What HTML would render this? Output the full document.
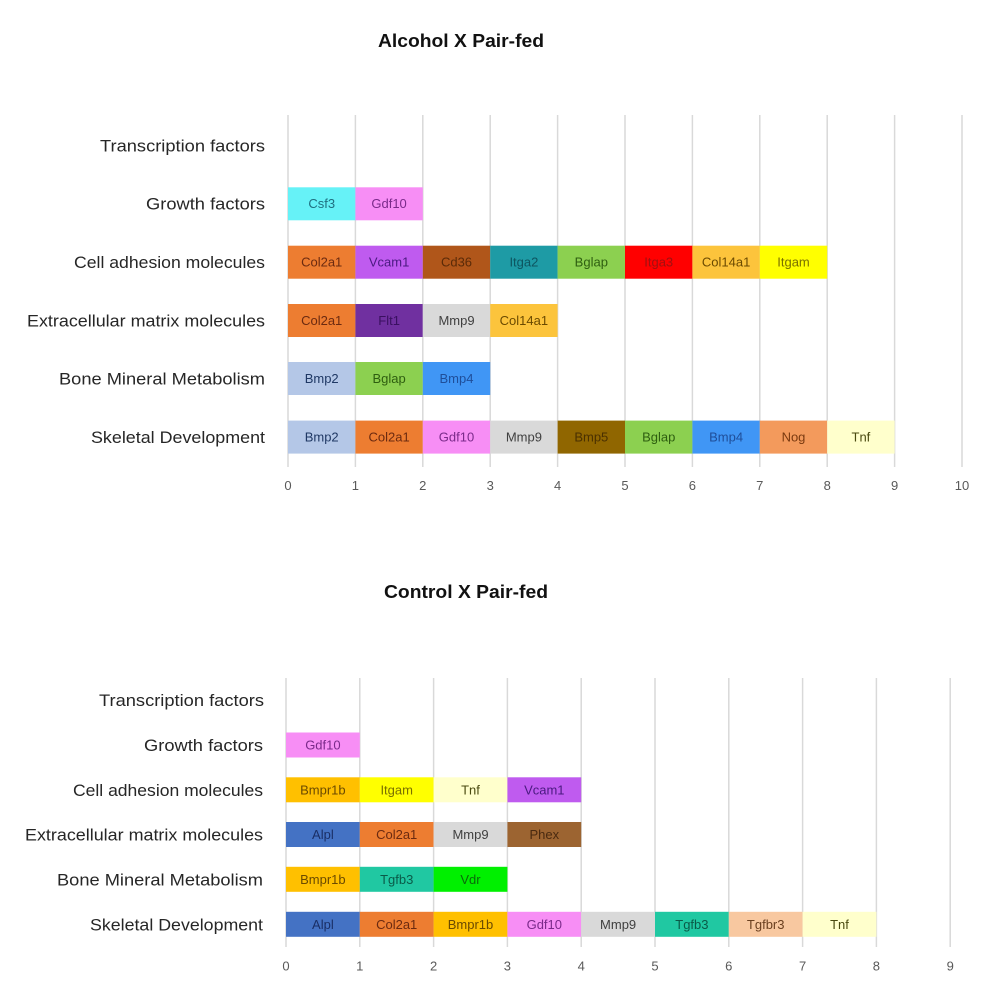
<!DOCTYPE html>
<html><head><meta charset="utf-8"><style>
html,body{margin:0;padding:0;background:#fff;}
svg{display:block;}
text{font-family:"Liberation Sans",sans-serif;}
.cat{font-size:17px;fill:#262626;text-anchor:end;}
.tk{font-size:13px;fill:#595959;text-anchor:middle;}
.bl{font-size:13px;text-anchor:middle;}
.ttl{font-size:18px;font-weight:bold;fill:#111;text-anchor:middle;}
.g{stroke:#d9d9d9;stroke-width:1.5;}
</style></head><body>
<svg width="1000" height="1000" viewBox="0 0 1000 1000" xmlns="http://www.w3.org/2000/svg">
<rect width="1000" height="1000" fill="#fff"/>

<!-- ===== TOP CHART ===== -->
<text class="ttl" x="461" y="47" textLength="166" lengthAdjust="spacingAndGlyphs">Alcohol X Pair-fed</text>

<g class="g">
<line x1="288" y1="115" x2="288" y2="467"/>
<line x1="355.4" y1="115" x2="355.4" y2="467"/>
<line x1="422.8" y1="115" x2="422.8" y2="467"/>
<line x1="490.2" y1="115" x2="490.2" y2="467"/>
<line x1="557.6" y1="115" x2="557.6" y2="467"/>
<line x1="625" y1="115" x2="625" y2="467"/>
<line x1="692.4" y1="115" x2="692.4" y2="467"/>
<line x1="759.8" y1="115" x2="759.8" y2="467"/>
<line x1="827.2" y1="115" x2="827.2" y2="467"/>
<line x1="894.6" y1="115" x2="894.6" y2="467"/>
<line x1="962" y1="115" x2="962" y2="467"/>
</g>

<text class="cat" x="265" y="151.5" textLength="165" lengthAdjust="spacingAndGlyphs">Transcription factors</text>
<text class="cat" x="265" y="209.7" textLength="119" lengthAdjust="spacingAndGlyphs">Growth factors</text>
<text class="cat" x="265" y="268.2" textLength="191" lengthAdjust="spacingAndGlyphs">Cell adhesion molecules</text>
<text class="cat" x="265" y="326.4" textLength="238" lengthAdjust="spacingAndGlyphs">Extracellular matrix molecules</text>
<text class="cat" x="265" y="384.5" textLength="206" lengthAdjust="spacingAndGlyphs">Bone Mineral Metabolism</text>
<text class="cat" x="265" y="443" textLength="174" lengthAdjust="spacingAndGlyphs">Skeletal Development</text>

<!-- Growth factors -->
<rect x="288" y="187.3" width="67.4" height="33" fill="#66f2f7"/>
<text class="bl" x="321.7" y="208.2" fill="#1f6f80">Csf3</text>
<rect x="355.4" y="187.3" width="67.4" height="33" fill="#f78ef5"/>
<text class="bl" x="389.1" y="208.2" fill="#7a2a8a">Gdf10</text>

<!-- Cell adhesion -->
<rect x="288" y="245.7" width="67.4" height="33" fill="#ed7d31"/>
<text class="bl" x="321.7" y="266.7" fill="#6b2a10">Col2a1</text>
<rect x="355.4" y="245.7" width="67.4" height="33" fill="#bf5bef"/>
<text class="bl" x="389.1" y="266.7" fill="#4a1a80">Vcam1</text>
<rect x="422.8" y="245.7" width="67.4" height="33" fill="#b0561a"/>
<text class="bl" x="456.5" y="266.7" fill="#5a2a08">Cd36</text>
<rect x="490.2" y="245.7" width="67.4" height="33" fill="#1e9ba5"/>
<text class="bl" x="523.9" y="266.7" fill="#0d5560">Itga2</text>
<rect x="557.6" y="245.7" width="67.4" height="33" fill="#8cd050"/>
<text class="bl" x="591.3" y="266.7" fill="#2e5e10">Bglap</text>
<rect x="625" y="245.7" width="67.4" height="33" fill="#ff0000"/>
<text class="bl" x="658.7" y="266.7" fill="#a01010">Itga3</text>
<rect x="692.4" y="245.7" width="67.4" height="33" fill="#fcc43c"/>
<text class="bl" x="726.1" y="266.7" fill="#6b4a00">Col14a1</text>
<rect x="759.8" y="245.7" width="67.4" height="33" fill="#ffff00"/>
<text class="bl" x="793.5" y="266.7" fill="#7a7000">Itgam</text>

<!-- ECM -->
<rect x="288" y="304" width="67.4" height="33" fill="#ed7d31"/>
<text class="bl" x="321.7" y="325" fill="#6b2a10">Col2a1</text>
<rect x="355.4" y="304" width="67.4" height="33" fill="#7030a0"/>
<text class="bl" x="389.1" y="325" fill="#3a1060">Flt1</text>
<rect x="422.8" y="304" width="67.4" height="33" fill="#d9d9d9"/>
<text class="bl" x="456.5" y="325" fill="#404040">Mmp9</text>
<rect x="490.2" y="304" width="67.4" height="33" fill="#fcc43c"/>
<text class="bl" x="523.9" y="325" fill="#6b4a00">Col14a1</text>

<!-- Bone -->
<rect x="288" y="362" width="67.4" height="33" fill="#b4c7e7"/>
<text class="bl" x="321.7" y="383" fill="#1f3864">Bmp2</text>
<rect x="355.4" y="362" width="67.4" height="33" fill="#8cd050"/>
<text class="bl" x="389.1" y="383" fill="#2e5e10">Bglap</text>
<rect x="422.8" y="362" width="67.4" height="33" fill="#4096f5"/>
<text class="bl" x="456.5" y="383" fill="#1f4e99">Bmp4</text>

<!-- Skeletal -->
<rect x="288" y="420.6" width="67.4" height="33" fill="#b4c7e7"/>
<text class="bl" x="321.7" y="441.5" fill="#1f3864">Bmp2</text>
<rect x="355.4" y="420.6" width="67.4" height="33" fill="#ed7d31"/>
<text class="bl" x="389.1" y="441.5" fill="#6b2a10">Col2a1</text>
<rect x="422.8" y="420.6" width="67.4" height="33" fill="#f78ef5"/>
<text class="bl" x="456.5" y="441.5" fill="#7a2a8a">Gdf10</text>
<rect x="490.2" y="420.6" width="67.4" height="33" fill="#d9d9d9"/>
<text class="bl" x="523.9" y="441.5" fill="#404040">Mmp9</text>
<rect x="557.6" y="420.6" width="67.4" height="33" fill="#906600"/>
<text class="bl" x="591.3" y="441.5" fill="#4a3000">Bmp5</text>
<rect x="625" y="420.6" width="67.4" height="33" fill="#8cd050"/>
<text class="bl" x="658.7" y="441.5" fill="#2e5e10">Bglap</text>
<rect x="692.4" y="420.6" width="67.4" height="33" fill="#4096f5"/>
<text class="bl" x="726.1" y="441.5" fill="#1f4e99">Bmp4</text>
<rect x="759.8" y="420.6" width="67.4" height="33" fill="#f39a5c"/>
<text class="bl" x="793.5" y="441.5" fill="#7a3a10">Nog</text>
<rect x="827.2" y="420.6" width="67.4" height="33" fill="#ffffcc"/>
<text class="bl" x="860.9" y="441.5" fill="#4a4a10">Tnf</text>

<!-- top ticks -->
<text class="tk" x="288" y="490">0</text>
<text class="tk" x="355.4" y="490">1</text>
<text class="tk" x="422.8" y="490">2</text>
<text class="tk" x="490.2" y="490">3</text>
<text class="tk" x="557.6" y="490">4</text>
<text class="tk" x="625" y="490">5</text>
<text class="tk" x="692.4" y="490">6</text>
<text class="tk" x="759.8" y="490">7</text>
<text class="tk" x="827.2" y="490">8</text>
<text class="tk" x="894.6" y="490">9</text>
<text class="tk" x="962" y="490">10</text>

<!-- ===== BOTTOM CHART ===== -->
<text class="ttl" x="466" y="598" textLength="164" lengthAdjust="spacingAndGlyphs">Control X Pair-fed</text>

<g class="g">
<line x1="286" y1="678" x2="286" y2="947"/>
<line x1="359.8" y1="678" x2="359.8" y2="947"/>
<line x1="433.6" y1="678" x2="433.6" y2="947"/>
<line x1="507.4" y1="678" x2="507.4" y2="947"/>
<line x1="581.2" y1="678" x2="581.2" y2="947"/>
<line x1="655" y1="678" x2="655" y2="947"/>
<line x1="728.8" y1="678" x2="728.8" y2="947"/>
<line x1="802.6" y1="678" x2="802.6" y2="947"/>
<line x1="876.4" y1="678" x2="876.4" y2="947"/>
<line x1="950.2" y1="678" x2="950.2" y2="947"/>
</g>

<text class="cat" x="264" y="706" textLength="165" lengthAdjust="spacingAndGlyphs">Transcription factors</text>
<text class="cat" x="263" y="751" textLength="119" lengthAdjust="spacingAndGlyphs">Growth factors</text>
<text class="cat" x="263" y="795.8" textLength="190" lengthAdjust="spacingAndGlyphs">Cell adhesion molecules</text>
<text class="cat" x="263" y="840.5" textLength="238" lengthAdjust="spacingAndGlyphs">Extracellular matrix molecules</text>
<text class="cat" x="263" y="885.3" textLength="206" lengthAdjust="spacingAndGlyphs">Bone Mineral Metabolism</text>
<text class="cat" x="263" y="930.3" textLength="173" lengthAdjust="spacingAndGlyphs">Skeletal Development</text>

<!-- GF -->
<rect x="286" y="732.5" width="73.8" height="25" fill="#f78ef5"/>
<text class="bl" x="322.9" y="749.5" fill="#7a2a8a">Gdf10</text>

<!-- CAM -->
<rect x="286" y="777.3" width="73.8" height="25" fill="#ffc000"/>
<text class="bl" x="322.9" y="794.3" fill="#6b4a00">Bmpr1b</text>
<rect x="359.8" y="777.3" width="73.8" height="25" fill="#ffff00"/>
<text class="bl" x="396.7" y="794.3" fill="#7a7000">Itgam</text>
<rect x="433.6" y="777.3" width="73.8" height="25" fill="#ffffcc"/>
<text class="bl" x="470.5" y="794.3" fill="#4a4a10">Tnf</text>
<rect x="507.4" y="777.3" width="73.8" height="25" fill="#bf5bef"/>
<text class="bl" x="544.3" y="794.3" fill="#4a1a80">Vcam1</text>

<!-- ECM -->
<rect x="286" y="822" width="73.8" height="25" fill="#4472c4"/>
<text class="bl" x="322.9" y="839" fill="#1a2f66">Alpl</text>
<rect x="359.8" y="822" width="73.8" height="25" fill="#ed7d31"/>
<text class="bl" x="396.7" y="839" fill="#6b2a10">Col2a1</text>
<rect x="433.6" y="822" width="73.8" height="25" fill="#d9d9d9"/>
<text class="bl" x="470.5" y="839" fill="#404040">Mmp9</text>
<rect x="507.4" y="822" width="73.8" height="25" fill="#9c6431"/>
<text class="bl" x="544.3" y="839" fill="#4a2a10">Phex</text>

<!-- Bone -->
<rect x="286" y="866.8" width="73.8" height="25" fill="#ffc000"/>
<text class="bl" x="322.9" y="883.8" fill="#6b4a00">Bmpr1b</text>
<rect x="359.8" y="866.8" width="73.8" height="25" fill="#20c8a2"/>
<text class="bl" x="396.7" y="883.8" fill="#0a5a48">Tgfb3</text>
<rect x="433.6" y="866.8" width="73.8" height="25" fill="#00f000"/>
<text class="bl" x="470.5" y="883.8" fill="#0a6a0a">Vdr</text>

<!-- Skeletal -->
<rect x="286" y="911.8" width="73.8" height="25" fill="#4472c4"/>
<text class="bl" x="322.9" y="928.8" fill="#1a2f66">Alpl</text>
<rect x="359.8" y="911.8" width="73.8" height="25" fill="#ed7d31"/>
<text class="bl" x="396.7" y="928.8" fill="#6b2a10">Col2a1</text>
<rect x="433.6" y="911.8" width="73.8" height="25" fill="#ffc000"/>
<text class="bl" x="470.5" y="928.8" fill="#6b4a00">Bmpr1b</text>
<rect x="507.4" y="911.8" width="73.8" height="25" fill="#f78ef5"/>
<text class="bl" x="544.3" y="928.8" fill="#7a2a8a">Gdf10</text>
<rect x="581.2" y="911.8" width="73.8" height="25" fill="#d9d9d9"/>
<text class="bl" x="618.1" y="928.8" fill="#404040">Mmp9</text>
<rect x="655" y="911.8" width="73.8" height="25" fill="#20c8a2"/>
<text class="bl" x="691.9" y="928.8" fill="#0a5a48">Tgfb3</text>
<rect x="728.8" y="911.8" width="73.8" height="25" fill="#f8c8a0"/>
<text class="bl" x="765.7" y="928.8" fill="#6b4020">Tgfbr3</text>
<rect x="802.6" y="911.8" width="73.8" height="25" fill="#ffffcc"/>
<text class="bl" x="839.5" y="928.8" fill="#4a4a10">Tnf</text>

<!-- bottom ticks -->
<text class="tk" x="286" y="970.5">0</text>
<text class="tk" x="359.8" y="970.5">1</text>
<text class="tk" x="433.6" y="970.5">2</text>
<text class="tk" x="507.4" y="970.5">3</text>
<text class="tk" x="581.2" y="970.5">4</text>
<text class="tk" x="655" y="970.5">5</text>
<text class="tk" x="728.8" y="970.5">6</text>
<text class="tk" x="802.6" y="970.5">7</text>
<text class="tk" x="876.4" y="970.5">8</text>
<text class="tk" x="950.2" y="970.5">9</text>
</svg>
</body></html>
